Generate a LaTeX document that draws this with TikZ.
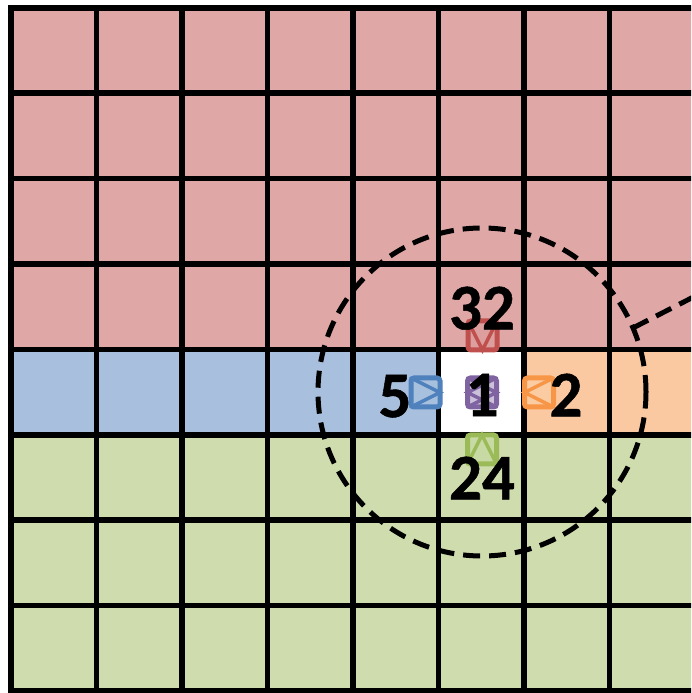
\documentclass[tikz,border=0pt]{standalone}
\usepackage{fontspec}
\setmainfont{Carlito}[BoldFeatures={FakeBold=0.8}]
\usetikzlibrary{positioning,shapes}
\definecolor{cellred}{HTML}{DFA7A6}
\definecolor{cellblue}{HTML}{A8C0DE}
\definecolor{cellorange}{HTML}{FBC9A1}
\definecolor{cellgreen}{HTML}{CFDCAD}
\definecolor{sigred}{HTML}{C0504D}
\definecolor{sigblue}{HTML}{4F81BD}
\definecolor{sigorange}{HTML}{F79646}
\definecolor{siggreen}{HTML}{9BBB59}
\definecolor{sigpurple}{HTML}{8064A2}

\begin{document}
\begin{tikzpicture}[
      x=1pt, y=1pt,
      gridline/.style={line width=5.5pt,black,line cap=rect},
      sig/.style={rounded corners=3pt,line width=5pt,minimum size=29pt,
                  inner sep=0pt,outer sep=0pt},
      sigline/.style={line width=3.5pt,line cap=round},
      num/.style={font=\fontsize{65}{65}\selectfont\bfseries,inner sep=0pt,
                  text depth=0pt},
      zone/.style={circle,draw,line width=5pt,dash pattern=on 17pt off 9pt,
                   minimum size=328pt,inner sep=0pt,outer sep=0pt}]
    \clip (0,0) rectangle (691,693);
    % cells, counted from the bottom left corner
    \begin{scope}[shift={(11,2)},x=85.5pt,y=85.4pt]
      \fill[cellred]    (0,4) rectangle (8.2,8);
      \fill[cellblue]   (0,3) rectangle (5,4);
      \fill[white]      (5,3) rectangle (6,4);
      \fill[cellorange] (6,3) rectangle (8.2,4);
      \fill[cellgreen]  (0,0) rectangle (8.2,3);
      \draw[gridline,step={(1,1)}] (0,0) grid (8.2,8);
    \end{scope}
    % neighbour marks
    \node[sig,draw=sigred,fill=sigred!55]       (sr) at (482.5,357.5) {};
    \node[sig,draw=sigblue,fill=sigblue!50]     (sb) at (425.5,300.5) {};
    \node[sig,draw=sigorange,fill=sigorange!50] (so) at (539,300.5)   {};
    \node[sig,draw=siggreen,fill=siggreen!55]   (sg) at (482,243.5)   {};
    \node[sig,draw=sigpurple,fill=sigpurple!40] (sp) at (482,300.5)   {};
    \draw[sigline,sigred]    (sr.north west) -- (sr.south) -- (sr.north east);
    \draw[sigline,sigblue]   (sb.north west) -- (sb.east)  -- (sb.south west);
    \draw[sigline,sigorange] (so.north east) -- (so.west)  -- (so.south east);
    \draw[sigline,siggreen]  (sg.south west) -- (sg.north) -- (sg.south east);
    \draw[sigline,sigpurple] (sp.north west) -- (sp.east)  -- (sp.south west);
    \draw[sigline,sigpurple] (sp.north east) -- (sp.west)  -- (sp.south east);
    % labels
    \node[num] (t32) at (482,385) {32};
    \node[num] (t5)  at (395,297) {5};
    \node[num] (t1)  at (482,298) {1};
    \node[num] (t2)  at (566,298) {2};
    \node[num] (t24) at (482,215) {24};
    % neighbourhood
    \node[zone] (hood) at (482,301) {};
    \coordinate (lens) at (760,430);
    \draw[line width=5pt,dash pattern=on 17pt off 9pt] (hood.23) -- (lens);
  \end{tikzpicture}
\end{document}
